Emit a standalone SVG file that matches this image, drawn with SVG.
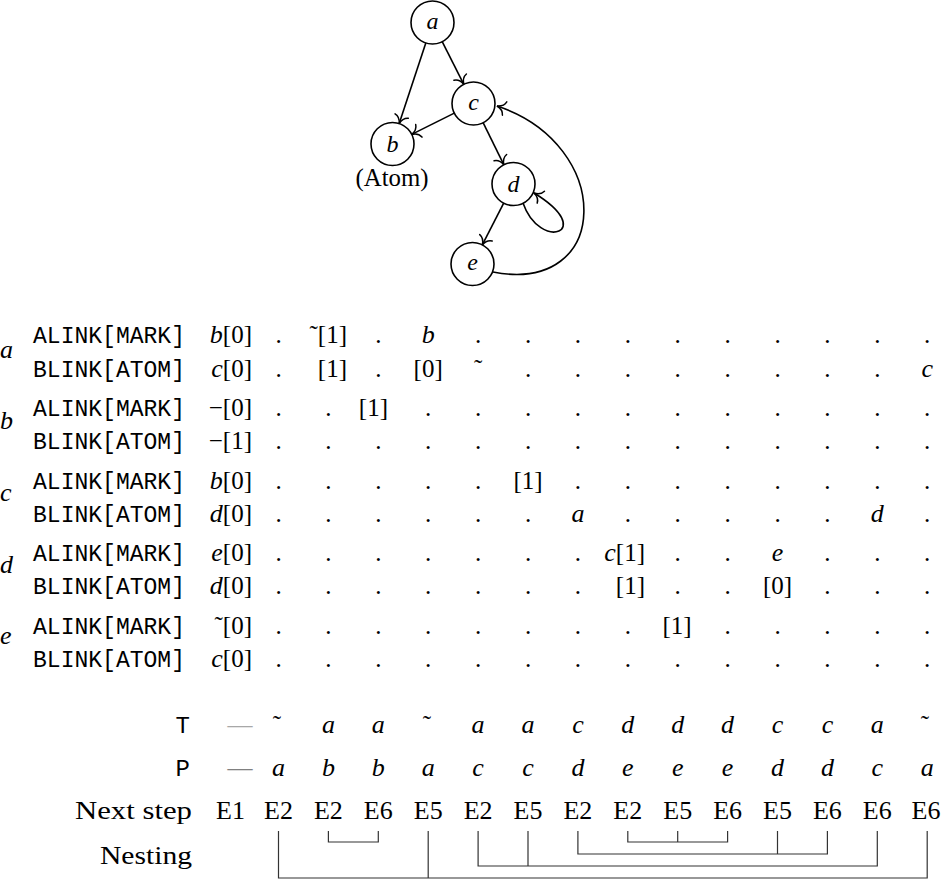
<svg xmlns="http://www.w3.org/2000/svg" width="942" height="880" viewBox="0 0 942 880">
<style>
.r{font-family:"Liberation Serif",serif;font-size:25px;fill:#000}
.i{font-family:"Liberation Serif",serif;font-size:26px;font-style:italic;fill:#000}
.it{font-style:italic}
.tt{font-family:"Liberation Mono",monospace;font-size:24px;fill:#000}
.nl{font-family:"Liberation Serif",serif;font-size:24px;font-style:italic;fill:#000}
.e{font-family:"Liberation Serif",serif;font-size:26px;fill:#000}
.node{fill:#fff;stroke:#000;stroke-width:1.6}
.edge{fill:none;stroke:#000;stroke-width:1.6;marker-end:url(#arr)}
.nest{fill:none;stroke:#333;stroke-width:1.2}
</style>
<defs>
<marker id="arr" viewBox="-10 -10 20 20" markerWidth="20" markerHeight="20" refX="0" refY="0" orient="auto" markerUnits="userSpaceOnUse" overflow="visible">
<path d="M -8,-7 C -7,-3 -3,-0.7 0,0 C -3,0.7 -7,3 -8,7" fill="none" stroke="#000" stroke-width="1.5" stroke-linecap="round"/>
</marker>
</defs>
<rect width="942" height="880" fill="#fff"/>

<g id="connectors">
<path class="edge" d="M 425.8,42.9 L 399.2,123.6"/>
<path class="edge" d="M 442.2,41.7 L 463.8,84.3"/>
<path class="edge" d="M 454.3,113.1 L 411.7,134.4"/>
<path class="edge" d="M 483.1,122.7 L 503.9,164.8"/>
<path class="edge" d="M 503.7,203.1 L 482.3,244.9"/>
<path class="edge" d="M 523,203 C 540,252 598,232 534,193"/>
<path class="edge" d="M 493,272 C 612,295 615,145 497,106"/>
</g>
<g id="node-a"><circle class="node" cx="432.5" cy="22.5" r="21.5"/><text class="nl" x="432.5" y="28.5" text-anchor="middle">a</text></g>
<g id="node-b"><circle class="node" cx="392.5" cy="144" r="21.5"/><text class="nl" x="392.5" y="152" text-anchor="middle">b</text><text class="r" x="392" y="186" text-anchor="middle" font-size="23" textLength="73" lengthAdjust="spacingAndGlyphs">(Atom)</text></g>
<g id="node-c"><circle class="node" cx="473.5" cy="103.5" r="21.5"/><text class="nl" x="473.5" y="109.5" text-anchor="middle">c</text></g>
<g id="node-d"><circle class="node" cx="513.5" cy="184" r="21.5"/><text class="nl" x="513.5" y="192" text-anchor="middle">d</text></g>
<g id="node-e"><circle class="node" cx="472.5" cy="264" r="21.5"/><text class="nl" x="472.5" y="270" text-anchor="middle">e</text></g>

<g id="table">
<text class="i" x="0" y="358">a</text>
<text class="i" x="0" y="429">b</text>
<text class="i" x="0" y="501">c</text>
<text class="i" x="0" y="573">d</text>
<text class="i" x="0" y="644">e</text>

<text class="tt" x="33" y="343" textLength="152" lengthAdjust="spacingAndGlyphs">ALINK[MARK]</text>
<text class="tt" x="33" y="377" textLength="152" lengthAdjust="spacingAndGlyphs">BLINK[ATOM]</text>
<text class="tt" x="33" y="416" textLength="152" lengthAdjust="spacingAndGlyphs">ALINK[MARK]</text>
<text class="tt" x="33" y="449" textLength="152" lengthAdjust="spacingAndGlyphs">BLINK[ATOM]</text>
<text class="tt" x="33" y="489" textLength="152" lengthAdjust="spacingAndGlyphs">ALINK[MARK]</text>
<text class="tt" x="33" y="522" textLength="152" lengthAdjust="spacingAndGlyphs">BLINK[ATOM]</text>
<text class="tt" x="33" y="561" textLength="152" lengthAdjust="spacingAndGlyphs">ALINK[MARK]</text>
<text class="tt" x="33" y="594" textLength="152" lengthAdjust="spacingAndGlyphs">BLINK[ATOM]</text>
<text class="tt" x="33" y="634" textLength="152" lengthAdjust="spacingAndGlyphs">ALINK[MARK]</text>
<text class="tt" x="33" y="667" textLength="152" lengthAdjust="spacingAndGlyphs">BLINK[ATOM]</text>

<text class="r" x="252" y="343" text-anchor="end"><tspan class="it" font-size="26">b</tspan>[0]</text>
<text class="r" x="252" y="377" text-anchor="end"><tspan class="it" font-size="26">c</tspan>[0]</text>
<text class="r" x="252" y="416" text-anchor="end">−[0]</text>
<text class="r" x="252" y="449" text-anchor="end">−[1]</text>
<text class="r" x="252" y="489" text-anchor="end"><tspan class="it" font-size="26">b</tspan>[0]</text>
<text class="r" x="252" y="522" text-anchor="end"><tspan class="it" font-size="26">d</tspan>[0]</text>
<text class="r" x="252" y="561" text-anchor="end"><tspan class="it" font-size="26">e</tspan>[0]</text>
<text class="r" x="252" y="594" text-anchor="end"><tspan class="it" font-size="26">d</tspan>[0]</text>
<text class="r" x="252" y="634" text-anchor="end">˜[0]</text>
<text class="r" x="252" y="667" text-anchor="end"><tspan class="it" font-size="26">c</tspan>[0]</text>

<!-- row a ALINK -->
<text class="r" y="343" text-anchor="middle" x="278.5">.</text>
<text class="r" x="347" y="343" text-anchor="end">˜[1]</text>
<text class="r" y="343" text-anchor="middle" x="378.3">.</text>
<text class="i" x="428.2" y="343" text-anchor="middle">b</text>
<text class="r" y="343" text-anchor="middle" x="478.1 528 577.9 627.8 677.7 727.6 777.5 827.4 877.3 927.2">..........</text>
<!-- row a BLINK -->
<text class="r" y="377" text-anchor="middle" x="278.5">.</text>
<text class="r" x="347" y="377" text-anchor="end">[1]</text>
<text class="r" y="377" text-anchor="middle" x="378.3">.</text>
<text class="r" x="428.2" y="377" text-anchor="middle">[0]</text>
<text class="r" x="478.1" y="377" text-anchor="middle">˜</text>
<text class="r" y="377" text-anchor="middle" x="528 577.9 627.8 677.7 727.6 777.5 827.4 877.3">........</text>
<text class="i" x="927.2" y="377" text-anchor="middle">c</text>
<!-- row b ALINK -->
<text class="r" y="416" text-anchor="middle" x="278.5 328.4">..</text>
<text class="r" x="388" y="416" text-anchor="end">[1]</text>
<text class="r" y="416" text-anchor="middle" x="428.2 478.1 528 577.9 627.8 677.7 727.6 777.5 827.4 877.3 927.2">...........</text>
<!-- row b BLINK -->
<text class="r" y="449" text-anchor="middle" x="278.5 328.4 378.3 428.2 478.1 528 577.9 627.8 677.7 727.6 777.5 827.4 877.3 927.2">..............</text>
<!-- row c ALINK -->
<text class="r" y="489" text-anchor="middle" x="278.5 328.4 378.3 428.2 478.1">.....</text>
<text class="r" x="528" y="489" text-anchor="middle">[1]</text>
<text class="r" y="489" text-anchor="middle" x="577.9 627.8 677.7 727.6 777.5 827.4 877.3 927.2">........</text>
<!-- row c BLINK -->
<text class="r" y="522" text-anchor="middle" x="278.5 328.4 378.3 428.2 478.1 528">......</text>
<text class="i" x="577.9" y="522" text-anchor="middle">a</text>
<text class="r" y="522" text-anchor="middle" x="627.8 677.7 727.6 777.5 827.4">.....</text>
<text class="i" x="877.3" y="522" text-anchor="middle">d</text>
<text class="r" y="522" text-anchor="middle" x="927.2">.</text>
<!-- row d ALINK -->
<text class="r" y="561" text-anchor="middle" x="278.5 328.4 378.3 428.2 478.1 528 577.9">.......</text>
<text class="r" x="645" y="561" text-anchor="end"><tspan class="it" font-size="26">c</tspan>[1]</text>
<text class="r" y="561" text-anchor="middle" x="677.7 727.6">..</text>
<text class="i" x="777.5" y="561" text-anchor="middle">e</text>
<text class="r" y="561" text-anchor="middle" x="827.4 877.3 927.2">...</text>
<!-- row d BLINK -->
<text class="r" y="594" text-anchor="middle" x="278.5 328.4 378.3 428.2 478.1 528 577.9">.......</text>
<text class="r" x="645" y="594" text-anchor="end">[1]</text>
<text class="r" y="594" text-anchor="middle" x="677.7 727.6">..</text>
<text class="r" x="777.5" y="594" text-anchor="middle">[0]</text>
<text class="r" y="594" text-anchor="middle" x="827.4 877.3 927.2">...</text>
<!-- row e ALINK -->
<text class="r" y="634" text-anchor="middle" x="278.5 328.4 378.3 428.2 478.1 528 577.9 627.8">........</text>
<text class="r" x="677" y="634" text-anchor="middle">[1]</text>
<text class="r" y="634" text-anchor="middle" x="727.6 777.5 827.4 877.3 927.2">.....</text>
<!-- row e BLINK -->
<text class="r" y="667" text-anchor="middle" x="278.5 328.4 378.3 428.2 478.1 528 577.9 627.8 677.7 727.6 777.5 827.4 877.3 927.2">..............</text>
</g>

<g id="trace">
<text class="tt" x="190" y="733" text-anchor="end">T</text>
<text class="r" x="240" y="733" text-anchor="middle" style="fill:#a8a8a8">—</text>
<text class="r" y="733" text-anchor="middle" x="277">˜</text>
<text class="i" y="733" text-anchor="middle" x="328.4">a</text>
<text class="i" y="733" text-anchor="middle" x="378.3">a</text>
<text class="r" y="733" text-anchor="middle" x="427">˜</text>
<text class="i" y="733" text-anchor="middle" x="478.1">a</text>
<text class="i" y="733" text-anchor="middle" x="528">a</text>
<text class="i" y="733" text-anchor="middle" x="577.9">c</text>
<text class="i" y="733" text-anchor="middle" x="627.8">d</text>
<text class="i" y="733" text-anchor="middle" x="677.7">d</text>
<text class="i" y="733" text-anchor="middle" x="727.6">d</text>
<text class="i" y="733" text-anchor="middle" x="777.5">c</text>
<text class="i" y="733" text-anchor="middle" x="827.4">c</text>
<text class="i" y="733" text-anchor="middle" x="877.3">a</text>
<text class="r" y="733" text-anchor="middle" x="925">˜</text>

<text class="tt" x="190" y="776" text-anchor="end">P</text>
<text class="r" x="240" y="776" text-anchor="middle" style="fill:#808080">—</text>
<text class="i" y="776" text-anchor="middle" x="278.5">a</text>
<text class="i" y="776" text-anchor="middle" x="328.4">b</text>
<text class="i" y="776" text-anchor="middle" x="378.3">b</text>
<text class="i" y="776" text-anchor="middle" x="428.2">a</text>
<text class="i" y="776" text-anchor="middle" x="478.1">c</text>
<text class="i" y="776" text-anchor="middle" x="528">c</text>
<text class="i" y="776" text-anchor="middle" x="577.9">d</text>
<text class="i" y="776" text-anchor="middle" x="627.8">e</text>
<text class="i" y="776" text-anchor="middle" x="677.7">e</text>
<text class="i" y="776" text-anchor="middle" x="727.6">e</text>
<text class="i" y="776" text-anchor="middle" x="777.5">d</text>
<text class="i" y="776" text-anchor="middle" x="827.4">d</text>
<text class="i" y="776" text-anchor="middle" x="877.3">c</text>
<text class="i" y="776" text-anchor="middle" x="927.2">a</text>

<text class="e" x="192" y="819" text-anchor="end" textLength="117" lengthAdjust="spacingAndGlyphs">Next step</text>
<text class="e" y="819" text-anchor="middle" x="230.5">E1</text>
<text class="e" y="819" text-anchor="middle" x="278.5">E2</text>
<text class="e" y="819" text-anchor="middle" x="328.4">E2</text>
<text class="e" y="819" text-anchor="middle" x="378.3">E6</text>
<text class="e" y="819" text-anchor="middle" x="428.2">E5</text>
<text class="e" y="819" text-anchor="middle" x="478.1">E2</text>
<text class="e" y="819" text-anchor="middle" x="528">E5</text>
<text class="e" y="819" text-anchor="middle" x="577.9">E2</text>
<text class="e" y="819" text-anchor="middle" x="627.8">E2</text>
<text class="e" y="819" text-anchor="middle" x="677.7">E5</text>
<text class="e" y="819" text-anchor="middle" x="727.6">E6</text>
<text class="e" y="819" text-anchor="middle" x="777.5">E5</text>
<text class="e" y="819" text-anchor="middle" x="827.4">E6</text>
<text class="e" y="819" text-anchor="middle" x="877.3">E6</text>
<text class="e" y="819" text-anchor="middle" x="926">E6</text>

<text class="e" x="192" y="864" text-anchor="end" textLength="92" lengthAdjust="spacingAndGlyphs">Nesting</text>
</g>

<g id="nesting">
<path class="nest" d="M 278.5,831 V 878 H 927.2 V 831 M 428.2,831 V 878"/>
<path class="nest" d="M 328.4,831 V 842 H 378.3 V 831"/>
<path class="nest" d="M 478.1,831 V 866 H 877.3 V 831 M 528,831 V 866"/>
<path class="nest" d="M 577.9,831 V 854 H 827.4 V 831 M 777.5,831 V 854"/>
<path class="nest" d="M 627.8,831 V 842 H 727.6 V 831 M 677.7,831 V 842"/>
</g>
</svg>
